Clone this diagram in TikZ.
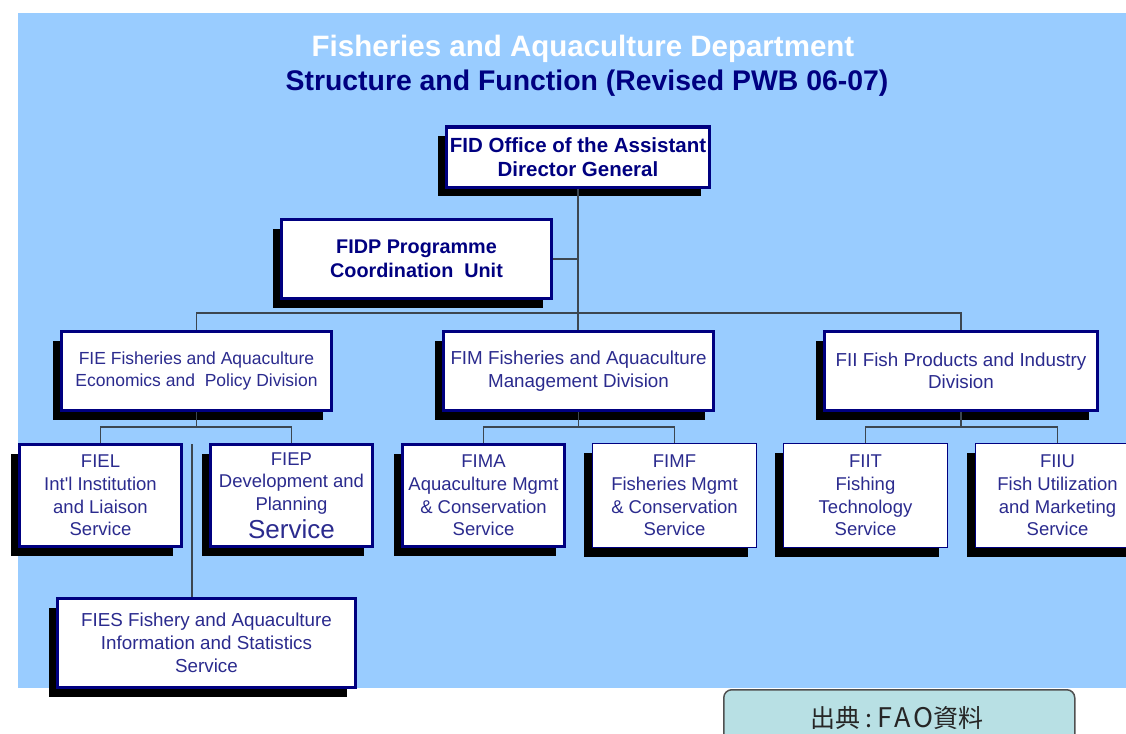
\documentclass[tikz,border=0pt]{standalone}
\usepackage{fontspec}
\setmainfont{Liberation Sans}
\newfontfamily\cjk{Noto Sans CJK JP}
\usetikzlibrary{shadows}
\definecolor{bgblue}{HTML}{99CCFF}
\definecolor{navy}{HTML}{000080}
\definecolor{txtblue}{HTML}{2B2B8E}
\definecolor{connc}{HTML}{3C4650}
\definecolor{srcfill}{HTML}{B8E0E4}
\definecolor{srcline}{HTML}{505050}
\begin{document}
\begin{tikzpicture}[x=1pt,y=-1pt,
  box/.style={fill=white, inner sep=0pt, align=center, text=txtblue, draw=navy,
     general shadow={fill=black, shadow xshift=-9pt, shadow yshift=-9pt, rounded corners=2pt}},
  thickbox/.style={box, line width=3pt},
  thinbox/.style={box, line width=1.2pt},
  boldtext/.style={font=\bfseries\fontsize{20.5}{24}\selectfont, text=navy},
  divtext/.style={font=\fontsize{18.8}{22.5}\selectfont},
  svctext/.style={font=\fontsize{18.5}{22.7}\selectfont},
  conn/.style={draw=connc, line width=1.5pt},
  srcbox/.style={fill=srcfill, draw=srcline, line width=1.5pt, rounded corners=8pt, inner sep=0pt},
]
\useasboundingbox (0,0) rectangle (1126,733);
\fill[bgblue] (18,13) rectangle (1130,688);

% titles
\node[font=\bfseries\fontsize{29.5}{34}\selectfont, text=white, anchor=base] (t1) at (583,57) {Fisheries and Aquaculture Department};
\node[font=\bfseries\fontsize{28.4}{34}\selectfont, text=navy, anchor=base] (t2) at (587,91) {Structure and Function (Revised PWB 06-07)};

% boxes
\node[thickbox, boldtext, minimum width=263pt, minimum height=60pt] (fid) at (578,157) {FID Office of the Assistant\\Director General};
\node[thickbox, boldtext, font=\bfseries\fontsize{19.8}{24}\selectfont, minimum width=270pt, minimum height=79pt] (fidp) at (416.5,259) {FIDP Programme\\Coordination\ \ Unit};

\node[thickbox, font=\fontsize{17.5}{22}\selectfont, minimum width=270pt, minimum height=79pt] (fie) at (196.5,371) {FIE Fisheries and Aquaculture\\Economics and\ \ Policy Division};
\node[thickbox, divtext, minimum width=270pt, minimum height=79pt] (fim) at (578.5,371) {FIM Fisheries and Aquaculture\\Management Division};
\node[thickbox, divtext, minimum width=273pt, minimum height=79pt] (fii) at (961,371) {FII Fish Products and Industry\\Division};

\node[thickbox, svctext, minimum width=162pt, minimum height=102pt] (fiel) at (100.5,495.5) {FIEL\\Int\textquotesingle l Institution\\and Liaison\\Service};
\node[thickbox, svctext, minimum width=162pt, minimum height=102pt] (fiep) at (291.5,495.5) {FIEP\\Development and\\Planning\\[5pt]{\fontsize{26}{28}\selectfont Service}};
\node[thickbox, svctext, minimum width=162pt, minimum height=102pt] (fima) at (483.5,495.5) {FIMA\\Aquaculture Mgmt\\\& Conservation\\Service};
\node[thinbox, svctext, minimum width=164pt, minimum height=104pt] (fimf) at (674.5,495.5) {FIMF\\Fisheries Mgmt\\\& Conservation\\Service};
\node[thinbox, svctext, minimum width=164pt, minimum height=104pt] (fiit) at (865.5,495.5) {FIIT\\Fishing\\Technology\\Service};
\node[thinbox, svctext, minimum width=164pt, minimum height=104pt] (fiiu) at (1057.5,495.5) {FIIU\\Fish Utilization\\and Marketing\\Service};

\node[thickbox, svctext, font=\fontsize{18.8}{23}\selectfont, minimum width=298pt, minimum height=89pt] (fies) at (206.5,643) {FIES Fishery and Aquaculture\\Information and Statistics\\Service};

% connectors
\coordinate (busA) at (579,313);
\coordinate (busE) at (197,427);
\coordinate (busM) at (579,427);
\coordinate (busI) at (961,427);
\coordinate (fiesTop) at (192,444);
\draw[conn] (fid.south) -- (fid.south |- fim.north);
\draw[conn] (fidp.east) -- (fidp.east -| fid.south);
\draw[conn] (fie.north) -- (fie.north |- busA) -- (fii.north |- busA) -- (fii.north);
\draw[conn] (fie.south) -- (fie.south |- busE);
\draw[conn] (fiel.north) -- (fiel.north |- busE) -- (fiep.north |- busE) -- (fiep.north);
\draw[conn] (fim.south) -- (fim.south |- busM);
\draw[conn] (fima.north) -- (fima.north |- busM) -- (fimf.north |- busM) -- (fimf.north);
\draw[conn] (fii.south) -- (fii.south |- busI);
\draw[conn] (fiit.north) -- (fiit.north |- busI) -- (fiiu.north |- busI) -- (fiiu.north);
\draw[conn] (fiesTop) -- (fiesTop |- fies.north);

% source box
\node[srcbox, anchor=north west, minimum width=351pt, minimum height=70pt] (src) at (723,689) {};
\node[font=\cjk\fontsize{25}{28}\selectfont, text=black!85] (srctext) at (897,718) {出典\hspace{5pt}:\hspace{5pt}{\fontsize{27}{28}\selectfont\addfontfeature{LetterSpace=12}FAO}資料};
\end{tikzpicture}
\end{document}
